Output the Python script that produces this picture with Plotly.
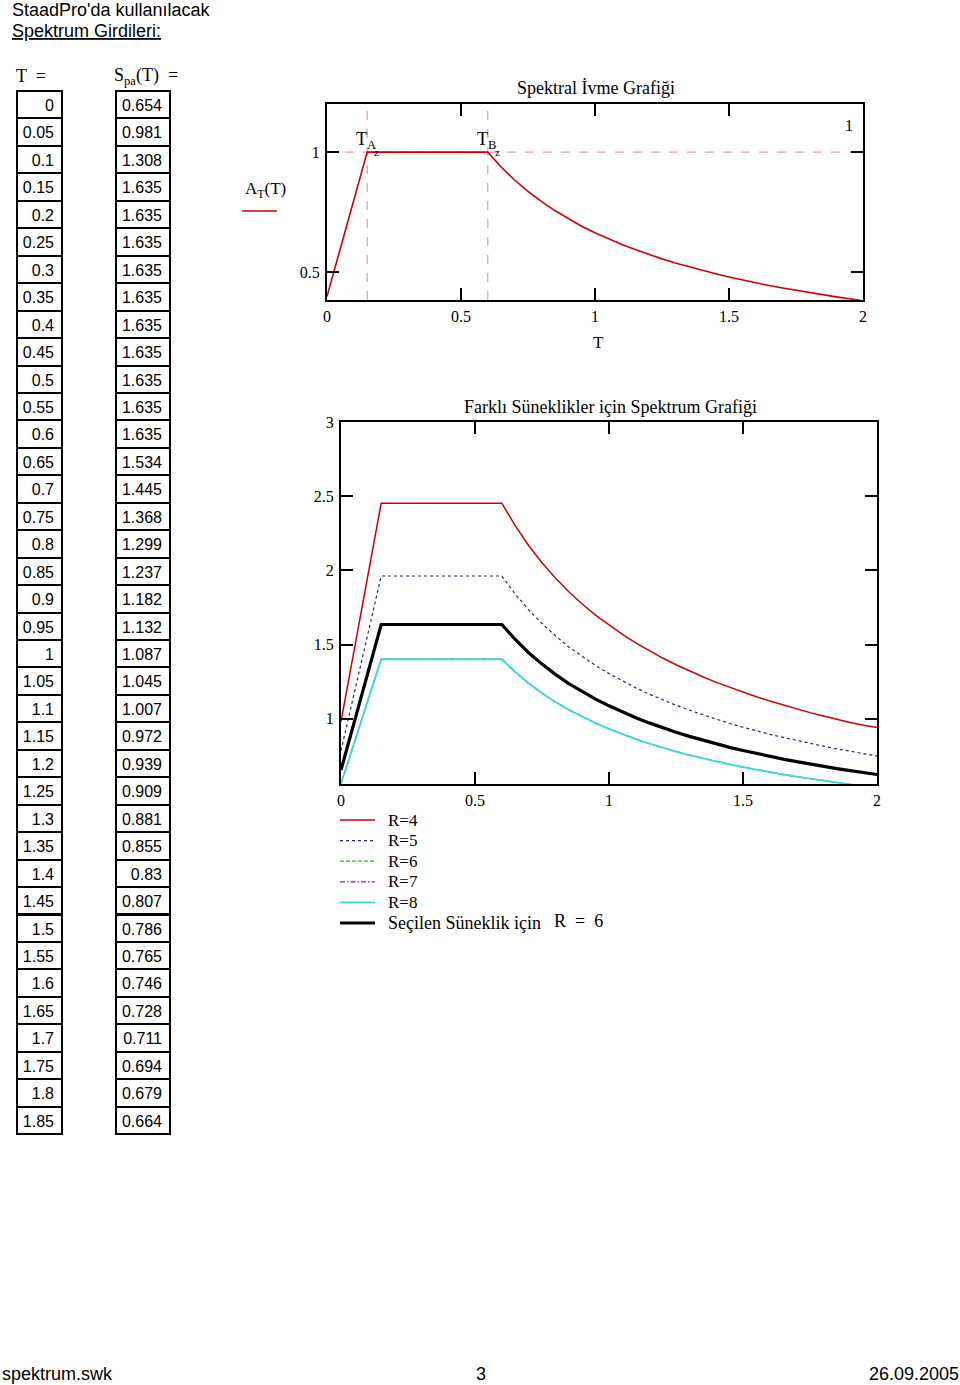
import plotly.graph_objects as go

W, H = 960, 1385
SERIF = "Times New Roman, Liberation Serif, serif"
SANS = "Arial, Liberation Sans, sans-serif"

# ---------------- data ----------------
T_table = [0, 0.05, 0.1, 0.15, 0.2, 0.25, 0.3, 0.35, 0.4, 0.45, 0.5, 0.55, 0.6, 0.65,
           0.7, 0.75, 0.8, 0.85, 0.9, 0.95, 1, 1.05, 1.1, 1.15, 1.2, 1.25, 1.3, 1.35,
           1.4, 1.45, 1.5, 1.55, 1.6, 1.65, 1.7, 1.75, 1.8, 1.85]
Spa_table = [0.654, 0.981, 1.308, 1.635, 1.635, 1.635, 1.635, 1.635, 1.635, 1.635,
             1.635, 1.635, 1.635, 1.534, 1.445, 1.368, 1.299, 1.237, 1.182, 1.132,
             1.087, 1.045, 1.007, 0.972, 0.939, 0.909, 0.881, 0.855, 0.83, 0.807,
             0.786, 0.765, 0.746, 0.728, 0.711, 0.694, 0.679, 0.664]

T_plot = [0, 0.05, 0.1, 0.15, 0.2, 0.25, 0.3, 0.35, 0.4, 0.45, 0.5, 0.55, 0.6, 0.65,
          0.7, 0.75, 0.8, 0.85, 0.9, 0.95, 1, 1.05, 1.1, 1.15, 1.2, 1.25, 1.3, 1.35,
          1.4, 1.45, 1.5, 1.55, 1.6, 1.65, 1.7, 1.75, 1.8, 1.85, 1.9, 1.95, 2.0]

A_T = [0.4, 0.6, 0.8, 1.0, 1.0, 1.0, 1.0, 1.0, 1.0, 1.0, 1.0, 1.0, 1.0, 0.938,
       0.884, 0.837, 0.795, 0.757, 0.723, 0.692, 0.665, 0.639, 0.616, 0.595, 0.574,
       0.556, 0.539, 0.523, 0.508, 0.494, 0.481, 0.468, 0.456, 0.445, 0.435, 0.425,
       0.415, 0.406, 0.398, 0.390, 0.382]

TA = 0.15
TB = 0.6
A_mark = 1.0

S_R4 = [0.981, 1.472, 1.962, 2.453, 2.453, 2.453, 2.453, 2.453, 2.453, 2.453, 2.453,
        2.453, 2.453, 2.301, 2.168, 2.052, 1.949, 1.856, 1.773, 1.698, 1.631, 1.568,
        1.511, 1.458, 1.409, 1.364, 1.322, 1.283, 1.245, 1.211, 1.179, 1.148, 1.119,
        1.092, 1.067, 1.041, 1.019, 0.996, 0.975, 0.956, 0.940]
S_R5 = [0.785, 1.177, 1.570, 1.962, 1.962, 1.962, 1.962, 1.962, 1.962, 1.962, 1.962,
        1.962, 1.962, 1.841, 1.734, 1.642, 1.559, 1.484, 1.418, 1.358, 1.304, 1.254,
        1.208, 1.166, 1.127, 1.091, 1.057, 1.026, 0.996, 0.968, 0.943, 0.918, 0.895,
        0.874, 0.853, 0.833, 0.815, 0.797, 0.780, 0.764, 0.749]
S_R6 = [0.654, 0.981, 1.308, 1.635, 1.635, 1.635, 1.635, 1.635, 1.635, 1.635, 1.635,
        1.635, 1.635, 1.534, 1.445, 1.368, 1.299, 1.237, 1.182, 1.132, 1.087, 1.045,
        1.007, 0.972, 0.939, 0.909, 0.881, 0.855, 0.83, 0.807, 0.786, 0.765, 0.746,
        0.728, 0.711, 0.694, 0.679, 0.664, 0.650, 0.637, 0.624]
S_R8 = [0.561, 0.841, 1.121, 1.401, 1.401, 1.401, 1.401, 1.401, 1.401, 1.401, 1.401,
        1.401, 1.401, 1.315, 1.239, 1.173, 1.113, 1.060, 1.013, 0.970, 0.932, 0.896,
        0.863, 0.833, 0.805, 0.779, 0.755, 0.733, 0.711, 0.692, 0.674, 0.656, 0.639,
        0.624, 0.609, 0.595, 0.582, 0.569, 0.557, 0.546, 0.535]

legend_names = ["R=4", "R=5", "R=6", "R=7", "R=8", "Seçilen Süneklik için"]
selected_R = 6

x_ticks = [0, 0.5, 1, 1.5, 2]
y1_ticks = [0.5, 1]
y2_ticks = [1, 1.5, 2, 2.5, 3]


def px(x):
    return x / W


def py(y):
    return 1 - y / H


fig = go.Figure()

# ---------------- tables ----------------
ROW_H = 27.45


def add_table(vals, x0, x1):
    txt = [f"{v:g}" for v in vals]
    common = dict(align="right", font=dict(family=SANS, size=16, color="black"),
                  line=dict(color="black", width=2), fill=dict(color="white"),
                  height=ROW_H)
    fig.add_trace(go.Table(
        domain=dict(x=[px(x0), px(x1)], y=[py(1150), py(91)]),
        columnwidth=[1],
        header=dict(values=[txt[0]], **common),
        cells=dict(values=[txt[1:]], **common),
    ))


add_table(T_table, 17, 62)
add_table(Spa_table, 116, 170)

# ---------------- chart 1 ----------------
fig.add_trace(go.Scatter(x=T_plot, y=A_T, mode="lines", xaxis="x", yaxis="y",
                         line=dict(color="#cc0000", width=1.6), showlegend=False,
                         hoverinfo="skip"))

mark_color = "#e08a8a"
for tv in (TA, TB):
    fig.add_shape(type="line", xref="x", yref="y domain", x0=tv, x1=tv, y0=0, y1=1,
                  line=dict(color=mark_color, width=1, dash="dash"), layer="below")
fig.add_shape(type="line", xref="x domain", yref="y", x0=0, x1=1, y0=A_mark, y1=A_mark,
              line=dict(color=mark_color, width=1, dash="dash"), layer="below")

# ---------------- chart 2 ----------------
styles = {
    "R=4": dict(color="#cc0000", width=1.5, dash="solid"),
    "R=5": dict(color="#202090", width=1.2, dash="dot"),
    "R=6": dict(color="#00cc00", width=1.3, dash="4px,2px"),
    "R=7": dict(color="#c000c0", width=1.3, dash="5px,2px,1.5px,2px"),
    "R=8": dict(color="#33dddd", width=1.8, dash="solid"),
    legend_names[5]: dict(color="black", width=3.2, dash="solid"),
}
series = {"R=6": S_R6, "R=7": S_R8, "R=4": S_R4, "R=5": S_R5, "R=8": S_R8,
          legend_names[5]: S_R6}
for name in ["R=6", "R=7", "R=4", "R=5", "R=8", legend_names[5]]:
    fig.add_trace(go.Scatter(x=T_plot, y=series[name], mode="lines", xaxis="x2",
                             yaxis="y2", name=name, showlegend=False,
                             line=styles[name], hoverinfo="skip"))

axis_common = dict(showgrid=False, zeroline=False, showline=True, linecolor="black",
                   linewidth=2, mirror="allticks", ticks="inside", ticklen=12,
                   tickwidth=2, tickcolor="black",
                   tickfont=dict(family=SERIF, size=16, color="black"))

fig.update_layout(
    width=W, height=H, margin=dict(l=0, r=0, t=0, b=0, autoexpand=False),
    paper_bgcolor="white", plot_bgcolor="white",
    xaxis=dict(domain=[px(327), px(863)], range=[0, 2], tickvals=x_ticks,
               anchor="y", ticklabelstandoff=1, **axis_common),
    yaxis=dict(domain=[py(300), py(104)], range=[0.385, 1.2], tickvals=y1_ticks,
               anchor="x", ticklabelstandoff=2, **axis_common),
    xaxis2=dict(domain=[px(341), px(877)], range=[0, 2], tickvals=x_ticks,
                anchor="y2", ticklabelstandoff=1, **axis_common),
    yaxis2=dict(domain=[py(784), py(422)], range=[0.56, 3.0], tickvals=y2_ticks,
                anchor="x2", ticklabelstandoff=2, **axis_common),
    showlegend=False,
)


def ann(text, x, y, size=16, family=SERIF, xanchor="left", yanchor="middle", **kw):
    fig.add_annotation(text=text, x=px(x), y=py(y), xref="paper", yref="paper",
                       showarrow=False, xanchor=xanchor, yanchor=yanchor,
                       font=dict(family=family, size=size, color="black"), **kw)


# legend for chart 1
fig.add_shape(type="line", xref="paper", yref="paper", x0=px(242), x1=px(277),
              y0=py(211), y1=py(211), line=dict(color="#cc0000", width=1.6))
ann("A<sub>T</sub>(T)", 243, 190, size=17)

# legend for chart 2
for i, name in enumerate(legend_names):
    yy = 820 + i * 20.6
    st = styles[name]
    fig.add_shape(type="line", xref="paper", yref="paper", x0=px(340), x1=px(375),
                  y0=py(yy), y1=py(yy),
                  line=dict(color=st["color"], width=min(st["width"], 3),
                            dash=st["dash"]))
    ann(name, 386, yy, size=18 if i == 5 else 17)
ann(f"R  =  {selected_R}", 552, 820 + 5 * 20.6 - 2, size=18)

ann("StaadPro'da kullanılacak", 10, 10, size=18, family=SANS)
ann("<u>Spektrum Girdileri:</u>", 10, 31, size=18, family=SANS)
ann("T  =", 14, 76, size=18)
ann("S<sub>pa</sub>(T)  =", 112, 76, size=18)
ann("Spektral İvme Grafiği", 596, 88, size=18, xanchor="center")
ann("T", 598, 343, size=17, xanchor="center")
ann("1", 849, 126, size=16, xanchor="center")
ann("Farklı Süneklikler için Spektrum Grafiği", 610, 407, size=18, xanchor="center")

for lab, tv in (("A", TA), ("B", TB)):
    fig.add_annotation(text=f"T<sub>{lab}</sub>", x=tv, y=A_mark, xref="x", yref="y",
                       showarrow=False, xanchor="center", yanchor="bottom",
                       xshift=-1, yshift=-2,
                       font=dict(family=SERIF, size=18, color="black"))
    fig.add_annotation(text="z", x=tv, y=A_mark, xref="x", yref="y",
                       showarrow=False, xanchor="left", yanchor="middle",
                       xshift=5, yshift=0,
                       font=dict(family=SERIF, size=11, color="black"))

ann("spektrum.swk", 0, 1374, size=18, family=SANS)
ann("3", 481, 1374, size=18, family=SANS, xanchor="center")
ann("26.09.2005", 961, 1374, size=18, family=SANS, xanchor="right")

fig.write_html("out.html",
               post_script="document.body.style.margin='0px';"
                           "document.body.style.padding='0px';")
